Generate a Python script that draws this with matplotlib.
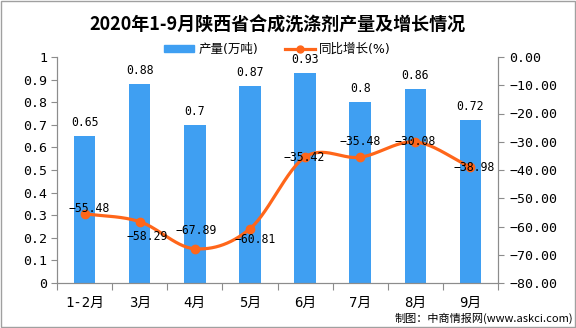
import numpy as np
import matplotlib
matplotlib.use("Agg")
import matplotlib.pyplot as plt
from matplotlib.lines import Line2D
from matplotlib.patches import Patch, Rectangle
from matplotlib.ticker import FixedLocator, FuncFormatter

plt.rcParams['font.family'] = ['DejaVu Sans Mono', 'Noto Sans CJK SC']

categories = ["1-2月", "3月", "4月", "5月", "6月", "7月", "8月", "9月"]
output = [0.65, 0.88, 0.70, 0.87, 0.93, 0.80, 0.86, 0.72]
growth = [-55.48, -58.29, -67.89, -60.81, -35.42, -35.48, -30.08, -38.98]
output_labels = ["0.65", "0.88", "0.7", "0.87", "0.93", "0.8", "0.86", "0.72"]

BLUE = '#3F9FF2'
ORANGE = '#FF661A'
AXC = '#8C8C8C'


def catmull_rom(x, y, n=30):
    x = np.asarray(x, float)
    y = np.asarray(y, float)
    px = np.concatenate([[2 * x[0] - x[1]], x, [2 * x[-1] - x[-2]]])
    py = np.concatenate([[2 * y[0] - y[1]], y, [2 * y[-1] - y[-2]]])
    xs, ys = [], []
    t = np.linspace(0, 1, n)
    for i in range(1, len(px) - 2):
        for p, out in ((px, xs), (py, ys)):
            p0, p1, p2, p3 = p[i - 1], p[i], p[i + 1], p[i + 2]
            out.extend(0.5 * ((2 * p1) + (-p0 + p2) * t
                              + (2 * p0 - 5 * p1 + 4 * p2 - p3) * t ** 2
                              + (-p0 + 3 * p1 - 3 * p2 + p3) * t ** 3))
    return np.array(xs), np.array(ys)


fig = plt.figure(figsize=(5.76, 3.28), dpi=100)
ax = fig.add_axes([57 / 576, 1 - 283 / 328, (498 - 57) / 576, (283 - 57) / 328])
ax2 = ax.twinx()

x = np.arange(len(categories)) + 0.5
ax.bar(x, output, width=0.39, color=BLUE, zorder=2)
ax.set_xlim(0, len(categories))
ax.set_ylim(0, 1)
ax2.set_ylim(-80, 0)

for xi, v, lab in zip(x, output, output_labels):
    ax.annotate(lab, (xi, v), xytext=(0, 5), textcoords='offset points',
                ha='center', va='bottom', fontsize=8.3, color='black')

sx, sy = catmull_rom(x, growth)
ax2.plot(sx, sy, color=ORANGE, lw=2.3, zorder=3, solid_capstyle='round')
ax2.plot(x, growth, 'o', color=ORANGE, ms=6, zorder=4)

offsets = [(3, 4), (5, -11), (1, 13), (4, -8), (-1, 0), (0, 11), (0, 0), (3, 0)]
for xi, v, (dx, dy) in zip(x, growth, offsets):
    ax2.annotate(f"{v:.2f}".replace('-', '−'), (xi, v), xytext=(dx, dy),
                 textcoords='offset points', ha='center', va='center',
                 fontsize=8.3, color='black', zorder=5)

# axes styling
for a in (ax, ax2):
    a.spines['top'].set_visible(False)
    for s in ('left', 'right', 'bottom'):
        a.spines[s].set_color(AXC)
ax.set_yticks(np.arange(0, 1.01, 0.1))
ax.yaxis.set_major_formatter(FuncFormatter(lambda v, p: f"{v:.1f}".rstrip('0').rstrip('.') if v != 0 else "0"))
ax.tick_params(axis='y', length=4, color=AXC, pad=3, labelsize=9.5)
ax2.set_yticks(np.arange(-80, 1, 10))
ax2.yaxis.set_major_formatter(FuncFormatter(lambda v, p: f"{v:.2f}".replace('-', '−')))
ax2.tick_params(axis='y', length=4, color=AXC, pad=4, labelsize=9.5)

ax.xaxis.set_major_locator(FixedLocator(np.arange(0, len(categories) + 1)))
ax.xaxis.set_minor_locator(FixedLocator(x))
ax.set_xticklabels([])
ax.set_xticklabels(categories, minor=True)
ax.tick_params(axis='x', which='major', length=5, color=AXC)
ax.tick_params(axis='x', which='minor', length=0, pad=9, labelsize=10)

# title
fig.text(0.482, 1 - 25 / 328, "2020年1-9月陕西省合成洗涤剂产量及增长情况",
         ha='center', va='center', fontsize=13, fontweight='bold',
         family=['Noto Sans CJK SC'])

# legend
handles = [Patch(color=BLUE, label="产量(万吨)"),
           Line2D([], [], color=ORANGE, lw=2.3, marker='o', ms=5, label="同比增长(%)")]
leg = fig.legend(handles=handles, loc='center', bbox_to_anchor=(0.482, 1 - 49 / 328),
                 ncol=2, frameon=False, fontsize=9, handlelength=2.4, handleheight=0.5,
                 columnspacing=2.2, handletextpad=0.3,
                 prop={'family': ['DejaVu Sans', 'Noto Sans CJK SC'], 'size': 9})

# source
fig.text(573 / 576, 1 - 318 / 328, "制图：中商情报网(www.askci.com)",
         ha='right', va='center', fontsize=8,
         family=['Noto Sans CJK SC', 'DejaVu Sans'])

fig.patches.append(Rectangle((0.001, 0.002), 0.997, 0.995, transform=fig.transFigure,
                             fill=False, edgecolor='#A0A0A0', lw=1))

fig.savefig("out.png", dpi=100)
